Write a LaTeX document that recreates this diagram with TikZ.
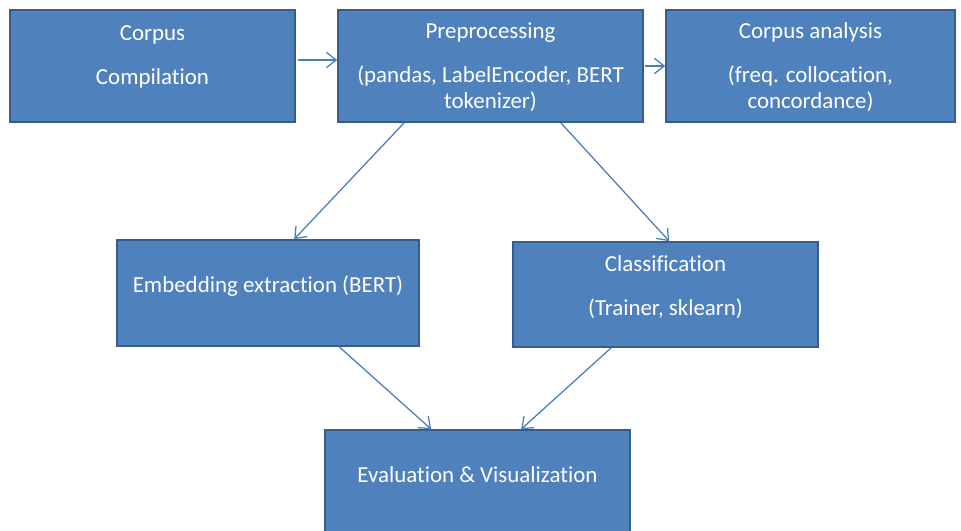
\documentclass[tikz,border=0pt]{standalone}
\usepackage{fontspec}
\setmainfont[Ligatures=NoCommon]{Carlito}
\usetikzlibrary{arrows.meta,calc}
\definecolor{boxfill}{HTML}{4F81BD}
\definecolor{boxline}{HTML}{385D8A}
\definecolor{arrowcol}{HTML}{4A7EBB}
\tikzset{%
	block/.style    = {draw=boxline, fill=boxfill, line width=1.1pt, rectangle,
		inner sep=0pt, minimum width=7.6cm, minimum height=2.8cm},
	txt/.style      = {text=white, align=center,
		font=\fontsize{16.3}{18.5}\selectfont}, % Box text
	link/.style     = {draw=arrowcol, line width=0.9pt,
		-{Straight Barb[length=7pt,width=11pt]}} % Arrow
}

\begin{document}
\begin{tikzpicture}[x=0.025cm,y=-0.025cm]
			\clip (0,0) rectangle (961,531);

			% top row
			\node[block, minimum width=7.125cm]               (comp) at (152.5,66) {};
			\node[block, minimum width=7.625cm]               (prep) at (490.5,66) {};
			\node[block, minimum width=7.225cm]               (ana)  at (810.5,66) {};
			% middle row
			\node[block, minimum width=7.55cm, minimum height=2.65cm]  (emb) at (268,293) {};
			\node[block, minimum width=7.625cm, minimum height=2.625cm] (cls) at (665.5,294.5) {};
			% bottom
			\node[block, minimum width=7.625cm, minimum height=3cm]    (eval) at (477.5,490) {};

			\node[txt] (comptext) at (152.5,57) {Corpus\\[12.7pt]Compilation};
			\node[txt] (preptext) at (490.5,67) {Preprocessing\\[13pt](pandas, LabelEncoder, BERT\\tokenizer)};
			\node[txt] (anatext)  at (810.5,67) {Corpus analysis\\[13pt](freq. collocation,\\concordance)};
			\node[txt] (embtext)  at (268,286) {Embedding extraction (BERT)};
			\node[txt] (clstext)  at (665.5,287) {Classification\\[12.7pt](Trainer, sklearn)};
			\node[txt] (evaltext) at (477.5,475) {Evaluation \& Visualization};

			\draw[link] ($(comp.east)+(2,-6)$) -- ($(prep.west)+(0,-6)$);
			\draw[link] ($(prep.east)+(1,0)$) -- (ana.west);
			\draw[link] ($(prep.south west)+(67,0)$) -- ($(emb.north west)+(178,0)$);
			\draw[link] ($(prep.south east)+(-83,0)$) -- ($(cls.north west)+(157,0)$);
			\draw[link] ($(emb.south west)+(223,0)$) -- ($(eval.north west)+(107,0)$);
			\draw[link] ($(cls.south west)+(99,0)$) -- ($(eval.north west)+(197,0)$);
		\end{tikzpicture}
\end{document}
